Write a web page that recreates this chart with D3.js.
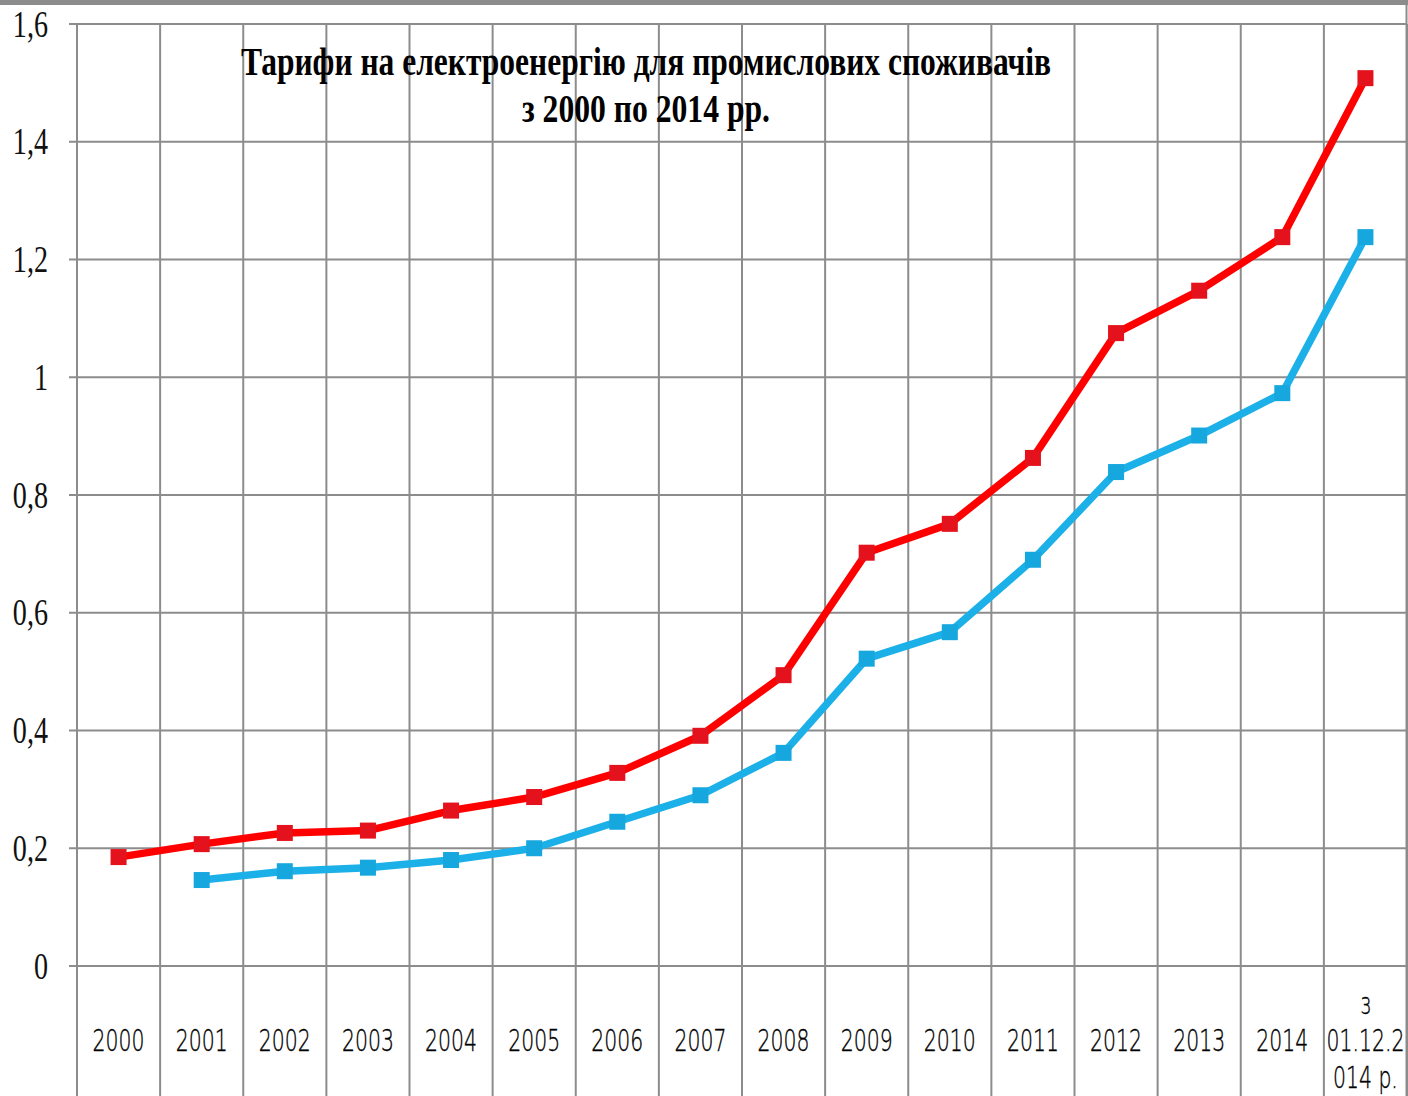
<!DOCTYPE html>
<html>
<head>
<meta charset="utf-8">
<script src="https://cdn.jsdelivr.net/npm/d3@7"></script>
<style>
  html, body { margin: 0; padding: 0; background: #fff; }
  svg { display: block; }
</style>
</head>
<body>
<svg id="chart"></svg>
<script>
const categories = ["2000", "2001", "2002", "2003", "2004", "2005", "2006", "2007",
  "2008", "2009", "2010", "2011", "2012", "2013", "2014", "з 01.12.2014 р."];
// upper (red) series
const redValues = [0.185, 0.207, 0.226, 0.230, 0.264, 0.287, 0.328, 0.391,
  0.494, 0.702, 0.751, 0.863, 1.075, 1.147, 1.238, 1.508];
// lower (blue) series, no value for 2000
const blueValues = [null, 0.146, 0.161, 0.167, 0.180, 0.200, 0.245, 0.290,
  0.362, 0.522, 0.567, 0.690, 0.839, 0.901, 0.973, 1.238];
const yTicks = [0, 0.2, 0.4, 0.6, 0.8, 1, 1.2, 1.4, 1.6];
const lastLabelLines = ["з", "01.12.2", "014 р."];
const titleLines = ["Тарифи на електроенергію для промислових споживачів", "з 2000 по 2014 рр."];

const W = 1408, H = 1096;
const margin = { top: 24, right: 1, left: 77, bottom: 130 };

const svg = d3.select("#chart").attr("width", W).attr("height", H);

const x = d3.scaleBand()
  .domain(categories)
  .range([margin.left, W - margin.right])
  .padding(0);

const y = d3.scaleLinear()
  .domain([0, 1.6])
  .range([H - margin.bottom, margin.top]);

const gridColor = "#8c8c8c";

// frame (top and right border)
svg.append("line")
  .attr("x1", 0).attr("x2", W).attr("y1", 2.5).attr("y2", 2.5)
  .attr("stroke", gridColor).attr("stroke-width", 5);
svg.append("line")
  .attr("x1", W - 1.5).attr("x2", W - 1.5).attr("y1", 0).attr("y2", H)
  .attr("stroke", gridColor).attr("stroke-width", 2);

// horizontal grid + ticks
svg.append("g")
  .selectAll("line")
  .data(yTicks)
  .join("line")
  .attr("x1", margin.left - 8)
  .attr("x2", W - margin.right)
  .attr("y1", d => y(d))
  .attr("y2", d => y(d))
  .attr("stroke", gridColor)
  .attr("stroke-width", 2);

// vertical grid, running down through the label area
const edges = categories.map(c => x(c)).concat([x.range()[1]]);
svg.append("g")
  .selectAll("line")
  .data(edges)
  .join("line")
  .attr("x1", d => d).attr("x2", d => d)
  .attr("y1", margin.top).attr("y2", H)
  .attr("stroke", gridColor)
  .attr("stroke-width", 2);

// y labels
const fmt = d => String(+d.toFixed(1)).replace(".", ",");
svg.append("g")
  .selectAll("text")
  .data(yTicks)
  .join("text")
  .attr("transform", d => `translate(48,${y(d)}) scale(0.76,1)`)
  .attr("text-anchor", "end")
  .attr("dy", "0.34em")
  .attr("font-family", "'Liberation Serif', 'Times New Roman', serif")
  .attr("font-size", 37)
  .attr("fill", "#111")
  .text(fmt);

// x labels
const xLab = svg.append("g")
  .attr("font-family", "'DejaVu Sans', Arial, sans-serif")
  .attr("font-weight", 200)
  .attr("font-size", 30)
  .attr("fill", "#000")
  .attr("stroke", "#000")
  .attr("stroke-width", 0.4);

xLab.selectAll("text")
  .data(categories.slice(0, -1))
  .join("text")
  .attr("transform", d => `translate(${x(d) + x.bandwidth() / 2},1051) scale(0.68,1)`)
  .attr("text-anchor", "middle")
  .text(d => d);

const lastCx = x(categories[categories.length - 1]) + x.bandwidth() / 2;
xLab.selectAll("text.last")
  .data(lastLabelLines)
  .join("text")
  .attr("class", "last")
  .attr("transform", (d, i) => `translate(${lastCx},${1014 + i * 37}) scale(0.68,1)`)
  .attr("text-anchor", "middle")
  .text(d => d);

// series
const series = [
  { values: redValues, line: "#ff0000", marker: "#e3121c" },
  { values: blueValues, line: "#1cb0e8", marker: "#16a7de" }
];

const line = d3.line()
  .defined(d => d.v != null)
  .x(d => x(d.c) + x.bandwidth() / 2)
  .y(d => y(d.v));

series.forEach(s => {
  const pts = categories.map((c, i) => ({ c, v: s.values[i] }));
  svg.append("path")
    .datum(pts)
    .attr("fill", "none")
    .attr("stroke", s.line)
    .attr("stroke-width", 7.5)
    .attr("stroke-linejoin", "round")
    .attr("d", line);

  const m = 16;
  svg.append("g")
    .selectAll("rect")
    .data(pts.filter(d => d.v != null))
    .join("rect")
    .attr("x", d => x(d.c) + x.bandwidth() / 2 - m / 2)
    .attr("y", d => y(d.v) - m / 2)
    .attr("width", m)
    .attr("height", m)
    .attr("fill", s.marker);
});

// title
const title = svg.append("g")
  .attr("font-family", "'Liberation Serif', 'Times New Roman', serif")
  .attr("font-weight", "bold")
  .attr("font-size", 40)
  .attr("fill", "#000");

const titleWidths = [810, 248];
title.selectAll("text")
  .data(titleLines)
  .join("text")
  .attr("x", 646)
  .attr("y", (d, i) => 75 + i * 47)
  .attr("text-anchor", "middle")
  .attr("textLength", (d, i) => titleWidths[i])
  .attr("lengthAdjust", "spacingAndGlyphs")
  .text(d => d);
</script>
</body>
</html>
